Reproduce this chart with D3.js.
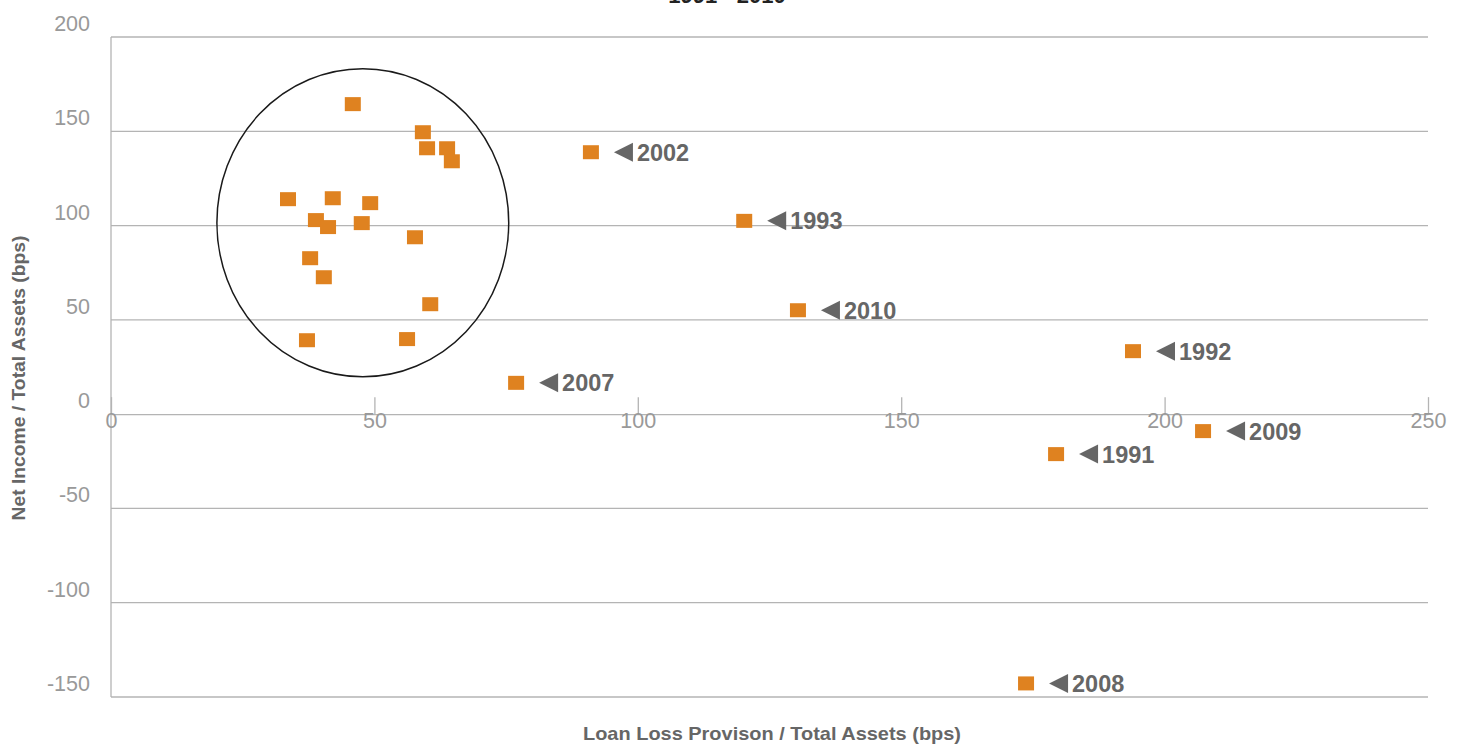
<!DOCTYPE html>
<html>
<head>
<meta charset="utf-8">
<script src="https://cdn.jsdelivr.net/npm/d3@7"></script>
<style>
  html, body { margin: 0; padding: 0; background: #fff; }
  svg { display: block; font-family: "Liberation Sans", Arial, Helvetica, sans-serif; }
</style>
</head>
<body>
<svg id="chart" width="1465" height="744"></svg>
<script>
// ---- Data ----
const clusterX = [45.9, 59.2, 60.0, 63.8, 64.7, 33.6, 42.1, 49.2, 38.9, 41.2, 47.6, 57.7, 37.8, 40.4, 60.6, 37.2, 56.2];
const clusterY = [164.4, 149.5, 141.0, 141.0, 134.1, 114.0, 114.5, 111.9, 102.9, 99.2, 101.3, 93.8, 82.7, 72.6, 58.3, 39.2, 39.8];

const labeledYears = ["2002", "1993", "2010", "2007", "1992", "2009", "1991", "2008"];
const labeledX = [91.1, 120.2, 130.4, 76.9, 194.0, 207.3, 179.4, 173.7];
const labeledY = [138.9, 102.5, 55.1, 16.6, 33.4, -9.0, -21.2, -142.8];

const xTicks = [0, 50, 100, 150, 200, 250];
const yTicks = [-150, -100, -50, 0, 50, 100, 150, 200];

const circleCenter = [47.8, 101.5];
const circleRadii = [27.7, 81.7];

const titleText = "1991 - 2010";
const xTitle = "Loan Loss Provison / Total Assets (bps)";
const yTitle = "Net Income / Total Assets (bps)";

// ---- Layout ----
const plotLeft = 111, plotRight = 1428, plotTop = 37, plotBottom = 697;
const gridColor = "#b4b4b4";
const tickColor = "#999999";
const labelColor = "#666666";
const markColor = "#DF8220";

const svg = d3.select("#chart");

const x = d3.scaleLinear().domain([0, 250]).range([plotLeft, plotRight]);
const y = d3.scaleLinear().domain([-150, 200]).range([plotBottom, plotTop]);

// Title (cut off at top, as in the source)
svg.append("text")
  .attr("x", 727).attr("y", 3)
  .attr("text-anchor", "middle")
  .attr("font-size", 22).attr("font-weight", "bold")
  .attr("fill", "#222")
  .text(titleText);

// Gridlines
svg.append("g").selectAll("line")
  .data(yTicks.filter(d => d !== 0))
  .join("line")
  .attr("x1", plotLeft).attr("x2", plotRight)
  .attr("y1", d => y(d)).attr("y2", d => y(d))
  .attr("stroke", gridColor).attr("stroke-width", 1.3);

// Y axis line
svg.append("line")
  .attr("x1", plotLeft).attr("x2", plotLeft)
  .attr("y1", plotTop).attr("y2", plotBottom)
  .attr("stroke", gridColor).attr("stroke-width", 1.3);

const fmt = d => String(d);

// Y tick labels
const yAxis = d3.axisLeft(y).tickValues(yTicks).tickFormat(fmt).tickSize(0).tickPadding(21);
const gy = svg.append("g").attr("transform", `translate(${plotLeft},0)`).call(yAxis);
gy.select(".domain").remove();
gy.selectAll("text")
  .attr("y", -14).attr("dy", "0.35em")
  .attr("fill", tickColor)
  .attr("font-size", 21.5)
  .attr("font-family", "'Liberation Sans', Arial, sans-serif");

// X axis at y=0
const xAxis = d3.axisBottom(x).tickValues(xTicks).tickFormat(fmt).tickSizeInner(-17).tickSizeOuter(0).tickPadding(0);
const gx = svg.append("g").attr("transform", `translate(0,${y(0)})`).call(xAxis);
gx.select(".domain").attr("stroke", gridColor).attr("stroke-width", 1.3);
gx.selectAll(".tick line").attr("stroke", gridColor).attr("stroke-width", 1.3);
gx.selectAll("text")
  .attr("y", 6).attr("dy", "0.35em")
  .attr("fill", tickColor)
  .attr("font-size", 21.5)
  .attr("font-family", "'Liberation Sans', Arial, sans-serif");

// Ellipse highlighting the cluster
svg.append("ellipse")
  .attr("cx", x(circleCenter[0])).attr("cy", y(circleCenter[1]))
  .attr("rx", x(circleCenter[0] + circleRadii[0]) - x(circleCenter[0]))
  .attr("ry", y(circleCenter[1] - circleRadii[1]) - y(circleCenter[1]))
  .attr("fill", "none").attr("stroke", "#1a1a1a").attr("stroke-width", 1.5);

// Markers
const mw = 16, mh = 14;
const allPts = clusterX.map((v, i) => ({x: v, y: clusterY[i]}))
  .concat(labeledX.map((v, i) => ({x: v, y: labeledY[i], label: labeledYears[i]})));

svg.append("g").selectAll("rect")
  .data(allPts)
  .join("rect")
  .attr("x", d => x(d.x) - mw / 2).attr("y", d => y(d.y) - mh / 2)
  .attr("width", mw).attr("height", mh)
  .attr("fill", markColor);

// Labels with left-pointing triangles
const lab = svg.append("g").selectAll("g")
  .data(allPts.filter(d => d.label))
  .join("g")
  .attr("transform", d => `translate(${x(d.x)},${y(d.y)})`);

lab.append("path")
  .attr("d", "M23,0 L42,-9.5 L42,9.5 Z")
  .attr("fill", labelColor);

lab.append("text")
  .attr("x", 46).attr("y", 0).attr("dy", "0.36em")
  .attr("font-size", 23.5).attr("font-weight", "bold")
  .attr("fill", labelColor)
  .text(d => d.label);

// Axis titles
svg.append("text")
  .attr("x", 772).attr("y", 733).attr("dy", "0.35em")
  .attr("text-anchor", "middle")
  .attr("font-size", 19).attr("font-weight", "bold")
  .attr("fill", labelColor)
  .attr("textLength", 378).attr("lengthAdjust", "spacingAndGlyphs")
  .text(xTitle);

svg.append("text")
  .attr("transform", "translate(18,378) rotate(-90)")
  .attr("dy", "0.35em")
  .attr("text-anchor", "middle")
  .attr("font-size", 19).attr("font-weight", "bold")
  .attr("fill", labelColor)
  .attr("textLength", 285).attr("lengthAdjust", "spacingAndGlyphs")
  .text(yTitle);
</script>
</body>
</html>
